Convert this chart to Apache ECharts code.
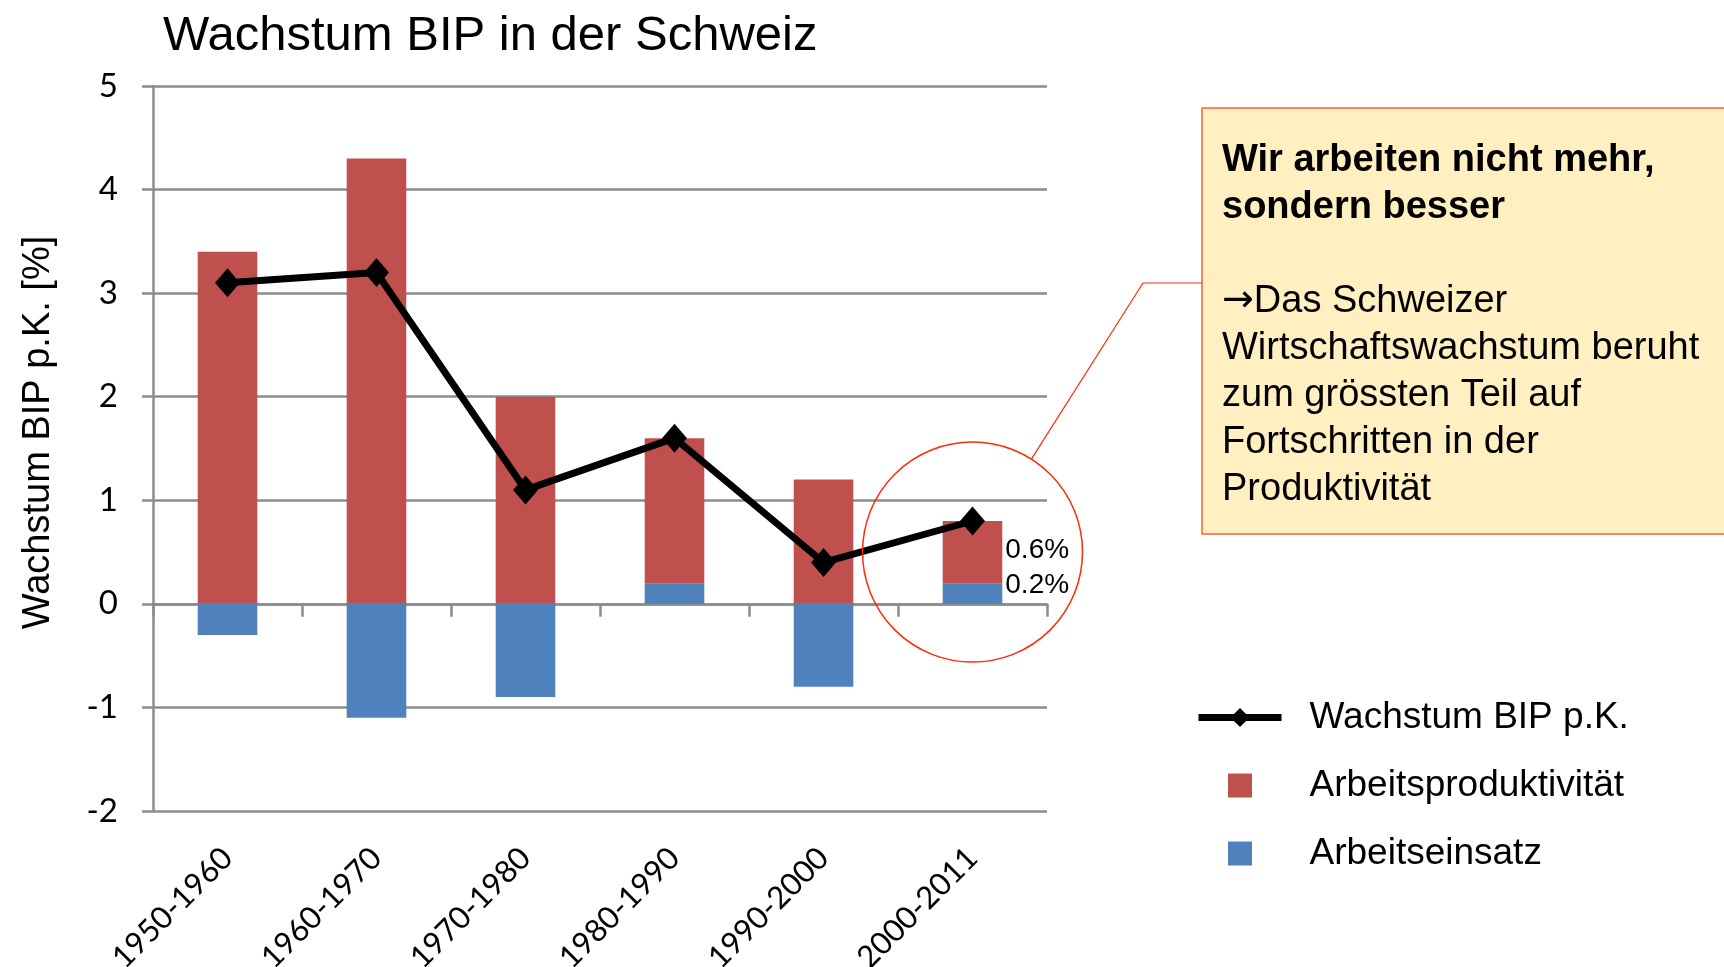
<!DOCTYPE html>
<html lang="de">
<head>
    <meta charset="UTF-8">
    <title>Wachstum BIP in der Schweiz</title>
    <script src="https://cdn.jsdelivr.net/npm/echarts@6/dist/echarts.min.js"></script>
    <style>
        body { margin: 0; background: #fff; }
        #main { width: 1724px; height: 967px; }
    </style>
</head>
<body>
<div id="main"></div>
<script>
    // Daten
    var perioden = ['1950-1960', '1960-1970', '1970-1980', '1980-1990', '1990-2000', '2000-2011'];
    var arbeitsproduktivitaet = [3.4, 4.3, 2.0, 1.4, 1.2, 0.6];
    var arbeitseinsatz = [-0.3, -1.1, -0.9, 0.2, -0.8, 0.2];
    var wachstumBip = [3.1, 3.2, 1.1, 1.6, 0.4, 0.8];
    var yMin = -2, yMax = 5, yStep = 1;

    var grau = '#8c8c8c';
    var rot = '#c0504d';
    var blau = '#4f81bd';
    var arial = "'Liberation Sans', Arial, sans-serif";
    var calibri = "Lato, 'Open Sans', sans-serif";

    // nur der letzte Balken bekommt die Prozent-Beschriftung
    function mitLabel(werte, offset) {
        return werte.map(function (v, i) {
            if (i !== werte.length - 1) return v;
            return {
                value: v,
                label: {
                    show: true, position: 'right', distance: 3, offset: offset,
                    formatter: '{c}%', fontFamily: arial, fontSize: 28, color: '#000'
                }
            };
        });
    }

    var chart = echarts.init(document.getElementById('main'));
    var square = 'path://M0,0H10V10H0Z';

    var option = {
        animation: false,
        title: {
            text: 'Wachstum BIP in der Schweiz',
            left: 158, top: 7,
            textStyle: {fontFamily: arial, fontSize: 49, fontWeight: 'normal', color: '#000'}
        },
        legend: {
            orient: 'vertical',
            left: 1190, top: 694,
            itemWidth: 83, itemHeight: 24, itemGap: 31,
            lineStyle: {width: 7},
            textStyle: {fontFamily: arial, fontSize: 37, color: '#000', padding: [0, 0, 0, 23]},
            data: [
                {name: 'Wachstum BIP p.K.'},
                {name: 'Arbeitsproduktivität', icon: square},
                {name: 'Arbeitseinsatz', icon: square}
            ]
        },
        // Beschriftungen duerfen unten ueber den Rand laufen, Raster nicht stauchen
        grid: {left: 153, right: 677, top: 86, bottom: 156, containLabel: false, outerBoundsMode: 'none'},
        xAxis: [
            {
                type: 'category', data: perioden, position: 'bottom',
                axisLine: {onZero: true, lineStyle: {color: grau, width: 2.5}},
                axisTick: {show: true, interval: 0, length: 13, lineStyle: {color: grau, width: 2.5}},
                axisLabel: {show: false},
                splitLine: {show: false}
            },
            {
                type: 'category', data: perioden, position: 'bottom',
                axisLine: {show: false, onZero: false},
                axisTick: {show: false},
                axisLabel: {
                    interval: 0, rotate: 45, margin: 42,
                    fontFamily: calibri, fontSize: 31, color: '#000'
                }
            }
        ],
        yAxis: {
            type: 'value', min: yMin, max: yMax, interval: yStep,
            name: 'Wachstum BIP p.K. [%]',
            nameLocation: 'middle', nameGap: 95, nameRotate: 90,
            nameTextStyle: {fontFamily: arial, fontSize: 38, color: '#000', padding: [0, 0, 0, 32]},
            axisLine: {show: true, lineStyle: {color: grau, width: 2.5}},
            axisTick: {show: true, length: 11, lineStyle: {color: grau, width: 2.5}},
            axisLabel: {margin: 35, fontFamily: calibri, fontSize: 33, color: '#000'},
            splitLine: {lineStyle: {color: grau, width: 2.5}}
        },
        series: [
            {
                name: 'Arbeitseinsatz', type: 'bar', stack: 'bip', barWidth: '40%',
                itemStyle: {color: blau},
                data: mitLabel(arbeitseinsatz, [0, -8])
            },
            {
                name: 'Arbeitsproduktivität', type: 'bar', stack: 'bip', barWidth: '40%',
                itemStyle: {color: rot},
                data: mitLabel(arbeitsproduktivitaet, [0, -2])
            },
            {
                name: 'Wachstum BIP p.K.', type: 'line',
                symbol: 'diamond', symbolSize: [25, 29],
                lineStyle: {color: '#000', width: 7},
                itemStyle: {color: '#000'},
                data: wachstumBip,
                z: 5
            }
        ],
        graphic: [
            {
                id: 'box', type: 'rect',
                shape: {x: 1202, y: 108, width: 540, height: 426},
                style: {fill: '#ffefc1', stroke: '#f4613d', lineWidth: 1.5}
            },
            {
                id: 'boxtext', type: 'text',
                x: 1222, y: 137,
                style: {
                    text: '{b|Wir arbeiten nicht mehr,}\n{b|sondern besser}\n\n' +
                        '{a|→}Das Schweizer\nWirtschaftswachstum beruht\nzum grössten Teil auf\n' +
                        'Fortschritten in der\nProduktivität',
                    fontFamily: arial, fontSize: 38, lineHeight: 47, fill: '#000',
                    verticalAlign: 'top',
                    rich: {
                        b: {fontFamily: arial, fontSize: 38, fontWeight: 'bold', lineHeight: 47},
                        a: {fontFamily: "'DejaVu Sans'", fontSize: 38, lineHeight: 47}
                    }
                }
            }
        ]
    };
    chart.setOption(option);

    // Kreis um den letzten Balken und Verbindungslinie zur Box
    var mitte = chart.convertToPixel({xAxisIndex: 0, yAxisIndex: 0}, [perioden[perioden.length - 1], 0.5]);
    var r = 110;
    var knick = [1143, 283];
    var dx = knick[0] - mitte[0], dy = knick[1] - mitte[1];
    var len = Math.sqrt(dx * dx + dy * dy);
    var start = [mitte[0] + r * dx / len, mitte[1] + r * dy / len];

    chart.setOption({
        graphic: [
            {
                id: 'kreis', type: 'circle',
                shape: {cx: mitte[0], cy: mitte[1], r: r},
                style: {fill: 'none', stroke: '#ff2a0a', lineWidth: 1.5},
                z: 10
            },
            {
                id: 'verbinder', type: 'polyline',
                shape: {points: [start, knick, [1202, knick[1]]]},
                style: {fill: 'none', stroke: '#ff2a0a', lineWidth: 1.2},
                z: 10
            }
        ]
    });
</script>
</body>
</html>
